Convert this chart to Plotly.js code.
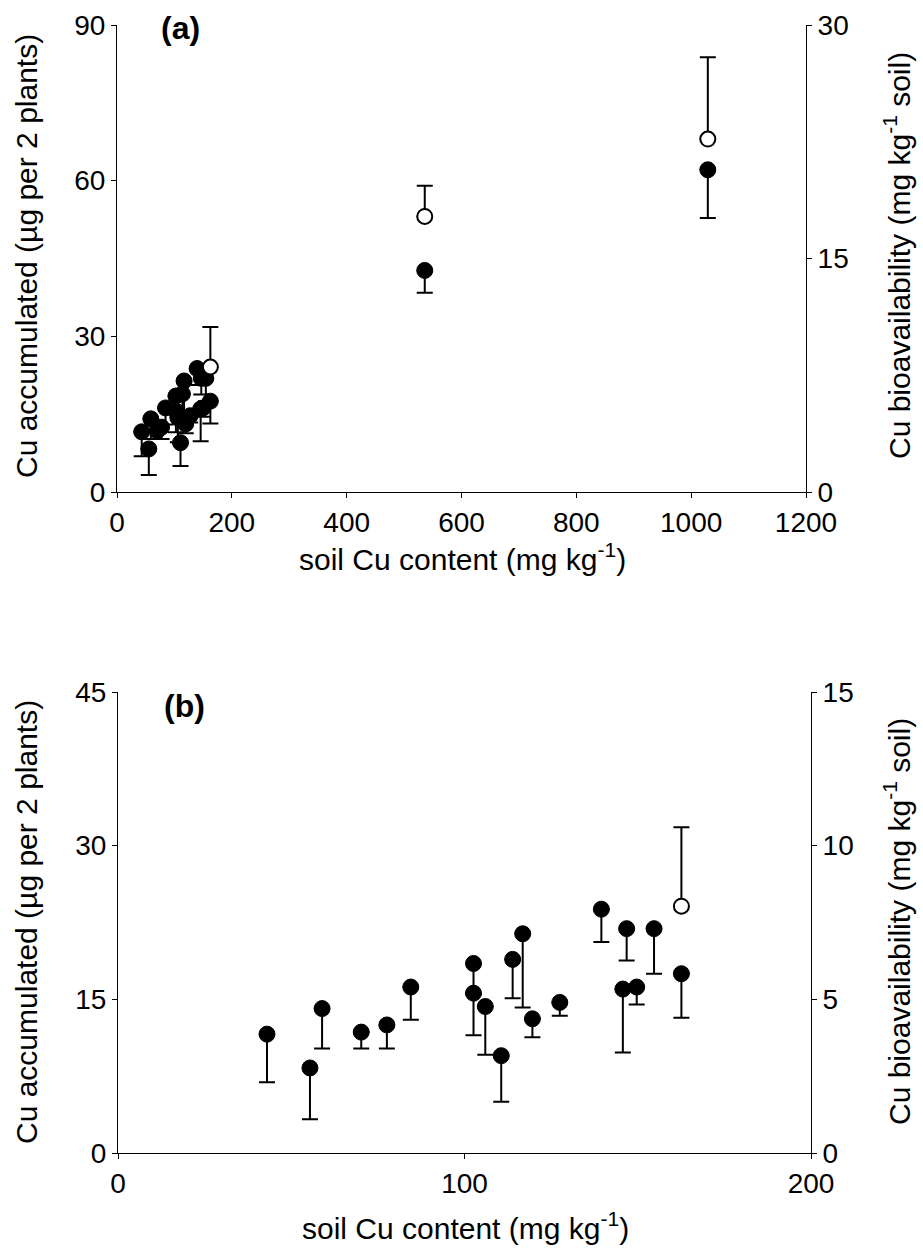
<!DOCTYPE html>
<html>
<head>
<meta charset="utf-8">
<script src="https://cdn.plot.ly/plotly-3.0.1.min.js"></script>
<style>html,body{margin:0;padding:0;background:#fff;}#chart{width:923px;height:1255px;}</style>
</head>
<body>
<div id="chart"></div>
<script>
// soil Cu content (mg/kg) for the filled points
const soilCu = [43.0, 55.4, 58.9, 70.2, 77.6, 84.5, 102.6, 102.6, 106.0, 110.6, 113.9, 116.8, 119.6, 127.5, 139.5, 145.7, 146.8, 149.7, 154.7, 162.6, 536, 1029];
// Cu accumulated (ug per 2 plants)
const cuAccum = [11.6, 8.3, 14.1, 11.8, 12.5, 16.2, 18.5, 15.6, 14.3, 9.5, 18.9, 21.4, 13.1, 14.7, 23.8, 16.0, 21.9, 16.2, 21.9, 17.5, 42.7, 62.1];
// lower end of error bar for Cu accumulated
const cuAccumLow = [6.9, 3.3, 10.2, 10.2, 10.2, 13.0, 15.5, 11.5, 9.6, 5.0, 15.1, 14.2, 11.3, 13.4, 20.6, 9.8, 18.8, 14.5, 17.5, 13.2, 38.4, 52.8];

// open circles: Cu bioavailability (mg/kg soil), right axis
const soilCuOpen = [162.6, 536, 1029];
const cuBio = [8.03, 17.7, 22.67];
const cuBioHigh = [10.6, 19.67, 27.93];

const errMinus = cuAccum.map((v, i) => v - cuAccumLow[i]);
const errPlus = cuBio.map((v, i) => cuBioHigh[i] - v);

// panel (b) only includes soils up to 200 mg/kg
const idxB = soilCu.map((v, i) => i).filter(i => soilCu[i] <= 200);
const idxBo = soilCuOpen.map((v, i) => i).filter(i => soilCuOpen[i] <= 200);

const W = 923, H = 1255;
const px = v => v / W;
const py = v => 1 - v / H;

function filledTrace(idx, xa, ya) {
  return {
    x: idx.map(i => soilCu[i]), y: idx.map(i => cuAccum[i]),
    xaxis: xa, yaxis: ya, type: 'scatter', mode: 'markers',
    marker: {symbol: 'circle', size: 16, color: '#000', line: {color: '#000', width: 1}},
    error_y: {type: 'data', symmetric: false, array: idx.map(() => 0), arrayminus: idx.map(i => errMinus[i]),
      color: '#000', thickness: 2, width: 8},
    cliponaxis: false, showlegend: false, hoverinfo: 'skip'
  };
}
function openTrace(idx, xa, ya) {
  return {
    x: idx.map(i => soilCuOpen[i]), y: idx.map(i => cuBio[i]),
    xaxis: xa, yaxis: ya, type: 'scatter', mode: 'markers',
    marker: {symbol: 'circle', size: 15, color: '#fff', line: {color: '#000', width: 2}},
    error_y: {type: 'data', symmetric: false, array: idx.map(i => errPlus[i]), arrayminus: idx.map(() => 0),
      color: '#000', thickness: 2, width: 8},
    cliponaxis: false, showlegend: false, hoverinfo: 'skip'
  };
}

const data = [
  filledTrace(soilCu.map((v, i) => i), 'x', 'y'),
  openTrace(soilCuOpen.map((v, i) => i), 'x', 'y2'),
  filledTrace(idxB, 'x2', 'y3'),
  openTrace(idxBo, 'x2', 'y4')
];

const tickFont = {family: 'Liberation Sans, Arial, sans-serif', size: 28, color: '#000'};
const axBase = {
  showgrid: false, zeroline: false, showline: true, linecolor: '#000', linewidth: 1,
  ticks: 'outside', ticklen: 5, tickcolor: '#000', tickwidth: 1, tickfont: tickFont,
  automargin: false, fixedrange: true
};

const layout = {
  width: W, height: H,
  margin: {l: 0, r: 0, t: 0, b: 0},
  paper_bgcolor: '#fff', plot_bgcolor: '#fff',
  font: {family: 'Liberation Sans, Arial, sans-serif', color: '#000'},
  xaxis: Object.assign({}, axBase, {domain: [px(117), px(806)], anchor: 'y', range: [0, 1200], tickvals: [0, 200, 400, 600, 800, 1000, 1200]}),
  yaxis: Object.assign({}, axBase, {domain: [py(492), py(25)], anchor: 'x', range: [0, 90], tickvals: [0, 30, 60, 90]}),
  yaxis2: Object.assign({}, axBase, {overlaying: 'y', side: 'right', anchor: 'x', range: [0, 30], tickvals: [0, 15, 30]}),
  xaxis2: Object.assign({}, axBase, {domain: [px(118), px(811)], anchor: 'y3', range: [0, 200], tickvals: [0, 100, 200]}),
  yaxis3: Object.assign({}, axBase, {domain: [py(1153), py(692)], anchor: 'x2', range: [0, 45], tickvals: [0, 15, 30, 45]}),
  yaxis4: Object.assign({}, axBase, {overlaying: 'y3', side: 'right', anchor: 'x2', range: [0, 15], tickvals: [0, 5, 10, 15]}),
  annotations: []
};

const titleFont = {family: 'Liberation Sans, Arial, sans-serif', size: 30, color: '#000'};
function ann(text, x, y, angle, font) {
  layout.annotations.push({text: text, x: px(x), y: py(y), xref: 'paper', yref: 'paper',
    showarrow: false, textangle: angle || 0, font: font || titleFont, xanchor: 'center', yanchor: 'middle'});
}
const leftTitle = 'Cu accumulated (µg per 2 plants)';
const rightTitle = 'Cu bioavailability (mg kg<sup>-1</sup> soil)';
const xTitle = 'soil Cu content (mg kg<sup>-1</sup>)';
ann(leftTitle, 27, 256, -90);
ann(rightTitle, 897, 256, -90);
ann(xTitle, 463, 557, 0);
ann(leftTitle, 27, 922, -90);
ann(rightTitle, 897, 922, -90);
ann(xTitle, 465, 1226, 0);
const panelFont = {family: 'Liberation Sans, Arial, sans-serif', size: 32, color: '#000', weight: 'bold'};
ann('<b>(a)</b>', 180, 28, 0, panelFont);
ann('<b>(b)</b>', 184, 706, 0, panelFont);

Plotly.newPlot('chart', data, layout, {staticPlot: true, displayModeBar: false});
</script>
</body>
</html>
